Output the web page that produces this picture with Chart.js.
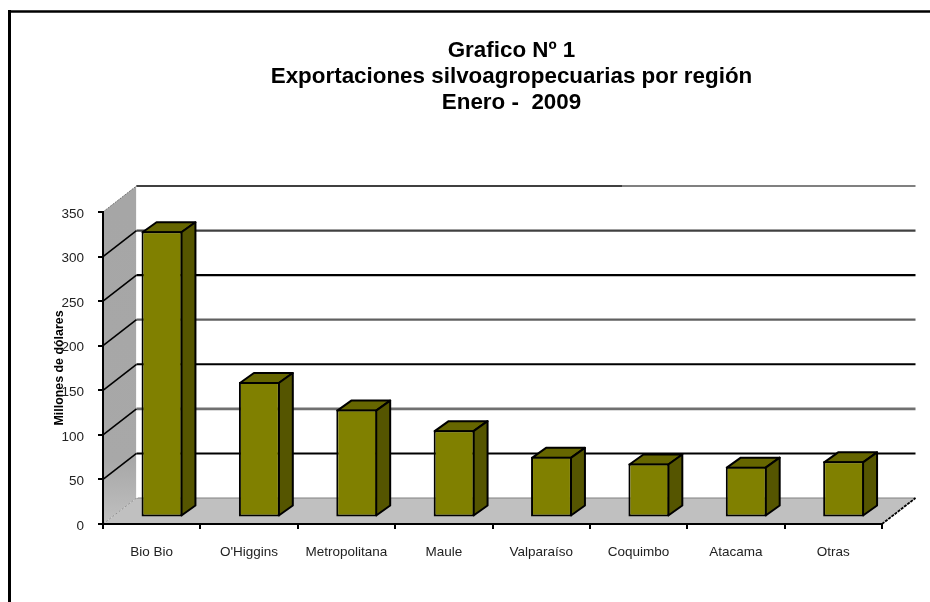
<!DOCTYPE html>
<html>
<head>
<meta charset="utf-8">
<title>Exportaciones silvoagropecuarias por región</title>
<script src="https://cdn.jsdelivr.net/npm/chart.js@4"></script>
<style>
    html, body { margin: 0; padding: 0; background: #ffffff; overflow: hidden; }
    canvas { display: block; }
</style>
</head>
<body>
<canvas id="chart" width="930" height="602"></canvas>
<script>
// --- Data ---
const regiones = ['Bio Bio', "O'Higgins", 'Metropolitana', 'Maule', 'Valparaíso', 'Coquimbo', 'Atacama', 'Otras'];
const exportaciones = [321, 152, 121, 98, 68, 60.5, 57, 63];
const tituloLineas = ['Grafico Nº 1', 'Exportaciones silvoagropecuarias por región', 'Enero -  2009'];
const tituloEjeY = 'Millones de dólares';

// --- Look of the fake 3D box ---
const wallDx = 33.5;      // front plane to back wall
const wallDy = -26;
const barShiftX = 10.3;   // bars stand inside the box
const barShiftY = -6.5;
const barDx = 14;         // bar depth
const barDy = -10;
const backLines = {
    0: null,
    50: ['#000000', 2],
    100: ['#707070', 2.6],
    150: ['#000000', 1.8],
    200: ['#606060', 2.2],
    250: ['#000000', 2.4],
    300: ['#404040', 2.2],
    350: ['#808080', 2]
};

function polygon(ctx, pts, fill, stroke, lineWidth) {
    ctx.beginPath();
    pts.forEach((p, i) => i ? ctx.lineTo(p[0], p[1]) : ctx.moveTo(p[0], p[1]));
    ctx.closePath();
    if (fill) { ctx.fillStyle = fill; ctx.fill(); }
    if (stroke) {
        ctx.strokeStyle = stroke;
        ctx.lineWidth = lineWidth;
        ctx.lineJoin = 'round';
        ctx.stroke();
    }
}

function line(ctx, x1, y1, x2, y2, color, width, dash) {
    ctx.save();
    ctx.beginPath();
    ctx.setLineDash(dash || []);
    ctx.moveTo(x1, y1);
    ctx.lineTo(x2, y2);
    ctx.strokeStyle = color;
    ctx.lineWidth = width;
    ctx.stroke();
    ctx.restore();
}

// Walls, floor and the outer frame go under everything
const boxPlugin = {
    id: 'box',
    afterLayout(chart) {
        // title is centred a bit right of the middle of the canvas
        chart.titleBlock.left = 0;
        chart.titleBlock.right = 1023;
    },
    beforeDraw(chart) {
        const ctx = chart.ctx;
        const y = chart.scales.y;
        const x0 = chart.chartArea.left, x1 = chart.chartArea.right;
        const y0 = y.getPixelForValue(0), yTop = y.getPixelForValue(350);

        // outer frame, only top and left show
        line(ctx, 8, 11.5, 930, 11.5, '#000000', 2.6);
        line(ctx, 9.5, 10, 9.5, 602, '#000000', 3);

        // left wall
        const wall = ctx.createLinearGradient(0, yTop, 0, y0);
        wall.addColorStop(0, '#a6a6a6');
        wall.addColorStop(0.8, '#a8a8a8');
        wall.addColorStop(1, '#c0c0c0');
        polygon(ctx, [[x0, y0], [x0, yTop], [x0 + wallDx, yTop + wallDy], [x0 + wallDx, y0 + wallDy]], wall);

        // floor
        polygon(ctx, [[x0, y0], [x0 + wallDx, y0 + wallDy], [x1 + wallDx, y0 + wallDy], [x1, y0]], '#c0c0c0');
        line(ctx, x0 + wallDx, y0 + wallDy, x1 + wallDx, y0 + wallDy, '#808080', 1);
        line(ctx, x0, y0, x0 + wallDx, y0 + wallDy, '#909090', 1, [2, 2]);
        line(ctx, x1, y0, x1 + wallDx, y0 + wallDy, '#000000', 1.8, [3, 1]);
        line(ctx, x0, yTop, x0 + wallDx, yTop + wallDy, '#707070', 1, [2, 1]);
        line(ctx, x0 + wallDx + 0.5, yTop + wallDy, x0 + wallDx + 0.5, y0 + wallDy, '#ffffff', 1.5);

        // gridlines on the back wall and the side wall
        y.ticks.forEach(t => {
            const style = backLines[t.value];
            if (!style) return;
            const py = y.getPixelForValue(t.value);
            line(ctx, x0 + wallDx, py + wallDy, x1 + wallDx, py + wallDy, style[0], style[1]);
            if (t.value < 350) line(ctx, x0, py, x0 + wallDx, py + wallDy, '#000000', 1.6);
        });
        // the top line is darker on its left part
        const topY = yTop + wallDy;
        line(ctx, x0 + wallDx, topY, 622, topY, '#404040', 2);
    },
    // bars get pushed back into the box, then the side and top faces are added
    beforeDatasetDraw(chart, args) {
        const ctx = chart.ctx;
        ctx.save();
        ctx.translate(barShiftX, barShiftY);
        const meta = args.meta;
        meta.data.forEach(bar => {
            const left = bar.x - bar.width / 2 + 1, right = bar.x + bar.width / 2 - 1;
            const top = bar.y + 1, bottom = bar.base - 1;
            polygon(ctx, [[left, top], [left + barDx, top + barDy], [right + barDx, top + barDy], [right, top]],
                '#666600', '#000000', 2);
            polygon(ctx, [[right, top], [right + barDx, top + barDy], [right + barDx, bottom + barDy], [right, bottom]],
                '#555500', '#000000', 2);
        });
    },
    afterDatasetDraw(chart) {
        chart.ctx.restore();
    }
};

new Chart(document.getElementById('chart'), {
    type: 'bar',
    data: {
        labels: regiones,
        datasets: [{
            data: exportaciones,
            backgroundColor: '#808000',
            borderColor: '#000000',
            borderWidth: 2,
            borderSkipped: false,
            barPercentage: 0.42,
            categoryPercentage: 1,
            clip: false
        }]
    },
    options: {
        responsive: false,
        animation: false,
        layout: { autoPadding: false, padding: { left: 0, right: 48, top: 0, bottom: 0 } },
        plugins: {
            legend: { display: false },
            tooltip: { enabled: false },
            title: {
                display: true,
                text: tituloLineas,
                color: '#000000',
                font: { family: 'Liberation Sans', size: 22.4, weight: 'bold', lineHeight: 1.16 },
                padding: { top: 38, bottom: 96 }
            }
        },
        scales: {
            x: {
                afterFit(scale) { scale.height = 78; },
                border: { color: '#000000', width: 2 },
                grid: { drawOnChartArea: false, color: '#000000', lineWidth: 2, tickLength: 5 },
                ticks: {
                    color: '#222222',
                    padding: 15,
                    maxRotation: 0,
                    font: { family: 'Liberation Sans', size: 13.5 }
                }
            },
            y: {
                min: 0,
                max: 350,
                afterFit(scale) { scale.width = 103; },
                border: { color: '#000000', width: 2 },
                grid: { drawOnChartArea: false, color: '#000000', lineWidth: 2, tickLength: 5 },
                ticks: {
                    stepSize: 50,
                    color: '#222222',
                    padding: 14,
                    labelOffset: 2,
                    font: { family: 'Liberation Sans', size: 13.5 }
                },
                title: {
                    display: true,
                    text: tituloEjeY,
                    color: '#000000',
                    font: { family: 'Liberation Sans', size: 12.4, weight: 'bold' },
                    padding: { top: 52, bottom: 0 }
                }
            }
        }
    },
    plugins: [boxPlugin]
});
</script>
</body>
</html>
